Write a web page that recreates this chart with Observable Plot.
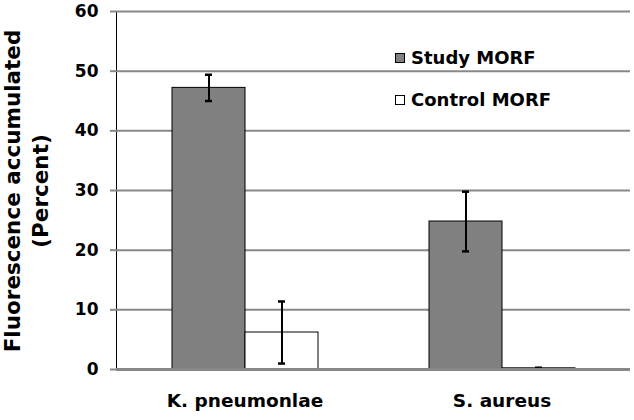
<!DOCTYPE html>
<html>
<head>
<meta charset="utf-8">
<script src="https://cdn.jsdelivr.net/npm/d3@7"></script>
<script src="https://cdn.jsdelivr.net/npm/@observablehq/plot@0.6"></script>
<style>
  html, body { margin: 0; padding: 0; background: #fff; }
  #wrap { position: relative; width: 634px; height: 420px; font-family: "DejaVu Sans", "Liberation Sans", Arial, sans-serif; font-weight: bold; }
  #wrap svg [aria-label^="y-axis"] line, #wrap svg [aria-label^="y-axis"] path { stroke: #888; stroke-width: 2px; }
  #ytitle { position: absolute; left: 27px; top: 191px; width: 380px; transform: translate(-50%, -50%) rotate(-90deg); text-align: center; font-size: 21.5px; line-height: 28px; color: #000; white-space: nowrap; }
  .leg { position: absolute; left: 395px; font-size: 18px; line-height: 22px; color: #000; display: flex; align-items: center; white-space: nowrap; }
  .leg span.sw { display: inline-block; width: 8px; height: 8px; border: 1px solid #000; margin-right: 6px; }
</style>
</head>
<body>
<div id="wrap"></div>
<script>
const groups = ["K. pneumonlae", "S. aureus"];
const series = ["Study MORF", "Control MORF"];
const seriesColors = ["#808080", "#ffffff"];
const studyValues = [47.2, 24.8];
const studyErrors = [2.2, 5.0];
const controlValues = [6.2, 0.2];
const controlErrors = [5.2, 0.1];
const yTicks = [0, 10, 20, 30, 40, 50, 60];
const yTitle = ["Fluorescence accumulated", "(Percent)"];

const data = [];
groups.forEach((g, i) => {
  data.push({group: g, series: series[0], value: studyValues[i], err: studyErrors[i]});
  data.push({group: g, series: series[1], value: controlValues[i], err: controlErrors[i]});
});

const chart = Plot.plot({
  width: 634,
  height: 420,
  marginLeft: 115,
  marginRight: 4,
  marginTop: 11,
  marginBottom: 51,
  style: {fontFamily: "'DejaVu Sans', 'Liberation Sans', Arial, sans-serif", fontWeight: "bold", fontSize: "17px", color: "#000", background: "#fff"},
  fx: {domain: groups, padding: 0, label: null, axis: "bottom", tickSize: 0, tickPadding: 24},
  x: {domain: series, paddingInner: 0, paddingOuter: 0.74, axis: null},
  y: {domain: [0, 60], ticks: yTicks, tickSize: 6, tickPadding: 12, label: null, line: true},
  color: {domain: series, range: seriesColors},
  marks: [
    Plot.ruleY(yTicks.slice(1), {stroke: "#888", strokeWidth: 2}),
    Plot.barY(data, {fx: "group", x: "series", y: "value", fill: "series", stroke: "#000", strokeWidth: 1}),
    Plot.ruleX(data, {fx: "group", x: "series", y1: d => d.value - d.err, y2: d => d.value + d.err, stroke: "#000", strokeWidth: 2}),
    Plot.tickY(data, {fx: "group", x: "series", y: d => d.value + d.err, insetLeft: 33, insetRight: 33, stroke: "#000", strokeWidth: 2.5}),
    Plot.tickY(data, {fx: "group", x: "series", y: d => d.value - d.err, insetLeft: 33, insetRight: 33, stroke: "#000", strokeWidth: 2.5}),
    Plot.ruleY([0], {stroke: "#888", strokeWidth: 3})
  ]
});

const wrap = document.getElementById("wrap");
wrap.appendChild(chart);
chart.querySelectorAll('[aria-label^="fx-axis"] text').forEach(t => t.style.fontSize = "18.5px");

const yt = document.createElement("div");
yt.id = "ytitle";
yt.innerHTML = yTitle.map(s => `<div>${s}</div>`).join("");
wrap.appendChild(yt);

const legTops = [47, 89];
series.forEach((s, i) => {
  const d = document.createElement("div");
  d.className = "leg";
  d.style.top = legTops[i] + "px";
  d.innerHTML = `<span class="sw" style="background:${seriesColors[i]}"></span>${s}`;
  wrap.appendChild(d);
});
</script>
</body>
</html>
